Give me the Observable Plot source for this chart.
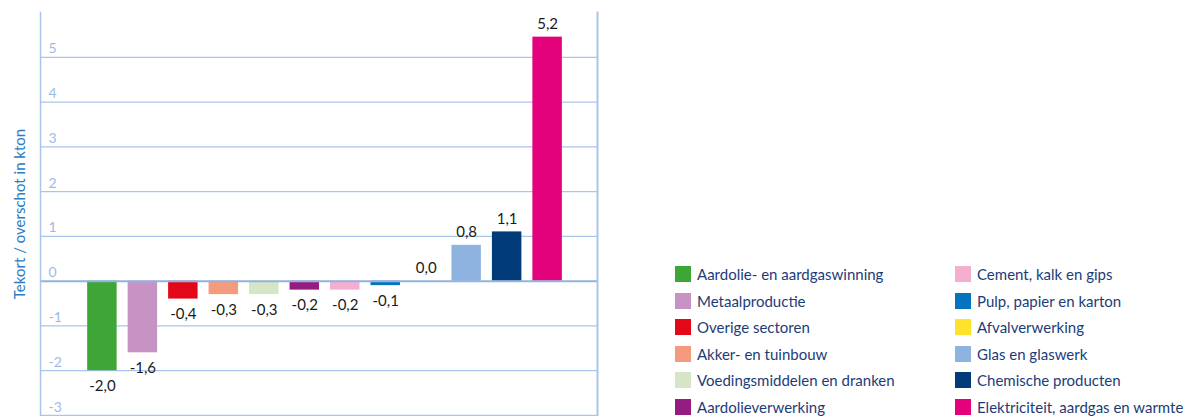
<!DOCTYPE html>
<html>
<head>
<meta charset="utf-8">
<script src="https://cdn.jsdelivr.net/npm/d3@7"></script>
<script src="https://cdn.jsdelivr.net/npm/@observablehq/plot@0.6"></script>
<style>
  html, body { margin: 0; padding: 0; background: #fff; }
  #wrap { position: relative; width: 1192px; height: 416px; overflow: hidden; font-family: Lato, "Open Sans", sans-serif; }
  #legend { position: absolute; left: 0; top: 0; }
  .item { position: absolute; display: flex; align-items: center; height: 16px; white-space: nowrap; }
  .sw { width: 16px; height: 16px; flex: none; }
  .lab { margin-left: 6px; font-size: 15px; color: #1c3c78; }
</style>
</head>
<body>
<div id="wrap"><div id="chart"></div><div id="legend"></div></div>
<script>
const categories = [
  "Aardolie- en aardgaswinning",
  "Metaalproductie",
  "Overige sectoren",
  "Akker- en tuinbouw",
  "Voedingsmiddelen en dranken",
  "Aardolieverwerking",
  "Cement, kalk en gips",
  "Pulp, papier en karton",
  "Afvalverwerking",
  "Glas en glaswerk",
  "Chemische producten",
  "Elektriciteit, aardgas en warmte"
];
const values = [-2.0, -1.6, -0.4, -0.3, -0.3, -0.2, -0.2, -0.1, 0.0, 0.8, 1.1, 5.45];
const valueLabels = ["-2,0", "-1,6", "-0,4", "-0,3", "-0,3", "-0,2", "-0,2", "-0,1", "0,0", "0,8", "1,1", "5,2"];
const colors = ["#3ea636", "#c793c4", "#e3071a", "#f39b7c", "#d5e5c5", "#951c80",
                "#f4aed0", "#0474bd", "#ffe22c", "#8fb3e0", "#013b7a", "#e4017c"];
const yTicks = [-3, -2, -1, 0, 1, 2, 3, 4, 5];
const yTitle = "Tekort / overschot in kton";

const data = categories.map((c, i) => ({cat: c, value: values[i], label: valueLabels[i], color: colors[i]}));

const grid = "#a9c5ea";
const chart = Plot.plot({
  width: 1192,
  height: 416,
  marginLeft: 40,
  marginRight: 595,
  marginTop: 12,
  marginBottom: 1,
  style: {fontFamily: "Lato, 'Open Sans', sans-serif", background: "#fff"},
  x: {domain: categories, paddingInner: 0.272, paddingOuter: 1.017, align: 0.573, round: false, axis: null},
  y: {domain: [-3, 6], axis: null},
  marks: [
    Plot.ruleY(yTicks.filter(d => d !== 0), {stroke: grid, strokeWidth: 1.3}),
    Plot.barY(data, {x: "cat", y: "value", fill: "color"}),
    Plot.ruleY([0], {stroke: "#92b3df", strokeWidth: 2}),
    Plot.frame({anchor: "left", stroke: grid, strokeWidth: 1.5}),
    Plot.frame({anchor: "right", stroke: grid, strokeWidth: 2}),
    Plot.text(yTicks, {y: d => d, text: d => String(d), frameAnchor: "left", dx: 8, dy: -4,
      textAnchor: "start", lineAnchor: "bottom", fill: "#9dbbe2", fontSize: 14}),
    Plot.text(data.filter(d => d.value >= 0), {x: "cat", y: "value", text: "label", dy: -8,
      lineAnchor: "bottom", fill: "#1a1a1a", fontSize: 15}),
    Plot.text(data.filter(d => d.value < 0), {x: "cat", y: "value", text: "label", dy: 20,
      lineAnchor: "bottom", fill: "#1a1a1a", fontSize: 15}),
    Plot.text([yTitle], {frameAnchor: "left", dx: -20, rotate: -90, textAnchor: "middle",
      fill: "#2a7cc3", fontSize: 15})
  ]
});
document.getElementById("chart").appendChild(chart);

const legend = document.getElementById("legend");
const colLeft = [675, 955];
const rowTop = 266, rowStep = 26.6;
categories.forEach((c, i) => {
  const col = Math.floor(i / 6), row = i % 6;
  const item = document.createElement("div");
  item.className = "item";
  item.style.left = colLeft[col] + "px";
  item.style.top = (rowTop + row * rowStep) + "px";
  const sw = document.createElement("div");
  sw.className = "sw";
  sw.style.background = colors[i];
  const lab = document.createElement("span");
  lab.className = "lab";
  lab.textContent = c;
  item.appendChild(sw);
  item.appendChild(lab);
  legend.appendChild(item);
});
</script>
</body>
</html>
